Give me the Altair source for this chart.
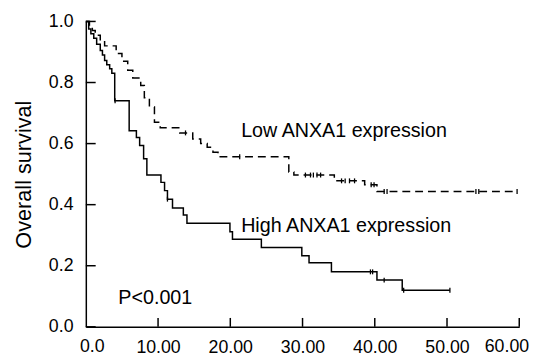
import altair as alt
import pandas as pd

# High ANXA1 expression (solid): event times and survival after each drop
high_t = [0, 0.4, 0.7, 1.1, 1.5, 2.0, 2.3, 2.6, 2.9, 3.3, 3.6, 4.0, 6.0, 7.0, 7.45, 8.0, 8.45,
          10.4, 10.9, 11.3, 12.0, 13.5, 14.0, 19.95, 20.3, 24.3, 29.9, 30.9, 34.0, 40.3, 43.8]
high_s = [1.0, 0.975, 0.96, 0.945, 0.925, 0.905, 0.89, 0.872, 0.858, 0.845, 0.83, 0.74, 0.642,
          0.62, 0.594, 0.55, 0.497, 0.473, 0.446, 0.418, 0.389, 0.366, 0.339, 0.311, 0.287,
          0.260, 0.233, 0.210, 0.180, 0.153, 0.120]
high_censor = [4.05, 11.3, 39.4, 39.7, 41.3, 44.0, 50.4]
high_end = 50.4

# Low ANXA1 expression (dashed)
low_t = [0, 0.5, 0.9, 1.3, 2.0, 2.6, 4.2, 5.0, 5.8, 6.5, 7.6, 8.1, 8.8, 9.5, 10.3, 13.0, 14.8,
         15.9, 16.8, 17.6, 18.3, 28.1, 28.8, 34.4, 38.6, 40.3]
low_s = [1.0, 0.985, 0.97, 0.955, 0.94, 0.92, 0.895, 0.87, 0.84, 0.815, 0.79, 0.75, 0.72, 0.67,
         0.652, 0.635, 0.615, 0.60, 0.588, 0.572, 0.557, 0.507, 0.497, 0.478, 0.465, 0.443]
low_censor = [13.8, 21.3, 30.4, 31.1, 31.5, 32.0, 32.5, 35.4, 35.9, 36.5, 37.2, 39.5, 39.9,
              41.3, 41.7, 54.0, 54.4, 59.7]
low_end = 59.7

x_ticks = [0, 10, 20, 30, 40, 50, 60]
x_tick_labels = ["0.0", "10.00", "20.00", "30.00", "40.00", "50.00", "60.00"]
y_ticks = [0.0, 0.2, 0.4, 0.6, 0.8, 1.0]

labels = ["Low ANXA1 expression", "High ANXA1 expression", "P<0.001"]
label_t = [21.5, 21.5, 4.5]
label_s = [0.62, 0.31, 0.075]

FONT = "Liberation Sans"


def level(ts, ss, t):
    v = ss[0]
    for a, b in zip(ts, ss):
        if a <= t:
            v = b
    return v


def line_df(ts, ss, end):
    return pd.DataFrame({"t": ts + [end], "s": ss + [ss[-1]]})


def censor_df(ts, ss, cs):
    return pd.DataFrame({"t": cs, "s": [level(ts, ss, c) for c in cs]})


xscale = alt.Scale(domain=[0, 60], nice=False, zero=True)
yscale = alt.Scale(domain=[0, 1], nice=False)

# inner labels through the axis; the two end labels as text marks (shifted inward)
x_axis = alt.Axis(values=x_ticks[1:-1], format=".2f",
                  grid=False, ticks=False, tickSize=0, domainColor="black", domainWidth=1.5,
                  labelFontSize=18, labelFont=FONT, labelColor="black", labelPadding=12,
                  labelOverlap=False, title=None)
y_axis = alt.Axis(values=y_ticks, format=".1f", grid=False, ticks=False, tickSize=0,
                  domainColor="black", domainWidth=1.5, labelFontSize=18, labelFont=FONT,
                  labelColor="black", labelPadding=13, labelOverlap=False,
                  title="Overall survival",
                  titleFont=FONT, titleFontSize=22, titleFontWeight="normal", titleColor="black",
                  titleAngle=270, titleX=-63, titleY=155, titleAlign="center",
                  titleBaseline="middle")

X = alt.X("t:Q", scale=xscale)
Y = alt.Y("s:Q", scale=yscale)

high_line = alt.Chart(line_df(high_t, high_s, high_end)).mark_line(
    interpolate="step-after", color="black", strokeWidth=1.5
).encode(x=alt.X("t:Q", scale=xscale, axis=x_axis), y=alt.Y("s:Q", scale=yscale, axis=y_axis))

low_line = alt.Chart(line_df(low_t, low_s, low_end)).mark_line(
    interpolate="step-after", color="black", strokeWidth=1.5, strokeDash=[8, 5]
).encode(x=X, y=Y)

censor = pd.concat([censor_df(high_t, high_s, high_censor), censor_df(low_t, low_s, low_censor)])
censor_marks = alt.Chart(censor).mark_point(
    shape="M0,-1L0,1", size=25, color="black", filled=False, strokeWidth=1.3, opacity=1
).encode(x=X, y=Y)

yt = alt.Chart(pd.DataFrame({"s": y_ticks})).mark_rule(color="black", strokeWidth=1.5).encode(
    y=Y, x=alt.value(0), x2=alt.value(10))
xt = alt.Chart(pd.DataFrame({"t": x_ticks[1:]})).mark_rule(color="black", strokeWidth=1.5).encode(
    x=X, y=alt.value(310), y2=alt.value(301))

first_lab = alt.Chart(pd.DataFrame({"t": [x_ticks[0]], "lab": [x_tick_labels[0]]})).mark_text(
    align="left", baseline="top", fontSize=18, font=FONT, color="black", dx=-6
).encode(x=X, y=alt.value(322), text="lab:N")
last_lab = alt.Chart(pd.DataFrame({"t": [x_ticks[-1]], "lab": [x_tick_labels[-1]]})).mark_text(
    align="right", baseline="top", fontSize=18, font=FONT, color="black", dx=10
).encode(x=X, y=alt.value(322), text="lab:N")

texts = alt.Chart(pd.DataFrame({"t": label_t, "s": label_s, "label": labels})).mark_text(
    align="left", baseline="alphabetic", fontSize=20, font=FONT, color="black"
).encode(x=X, y=Y, text="label:N")

chart = alt.layer(high_line, low_line, censor_marks, yt, xt, first_lab, last_lab, texts).properties(
    width=440, height=310,
    autosize=alt.AutoSizeParams(type="none"),
    padding={"left": 79, "top": 11, "right": 17, "bottom": 28},
    background="white",
).configure_view(stroke=None)

chart.save("out.html", embed_options={"renderer": "svg", "actions": False})
